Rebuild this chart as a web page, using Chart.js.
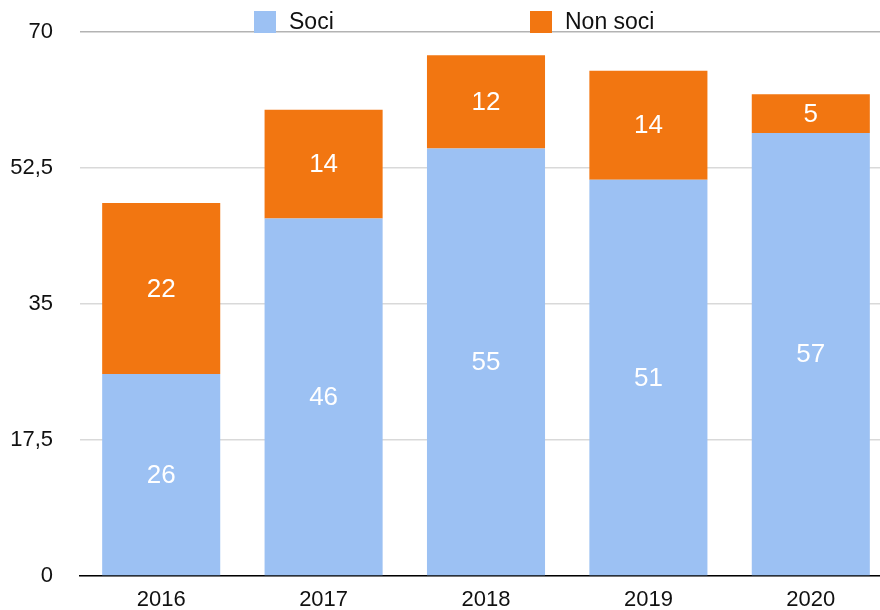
<!DOCTYPE html>
<html>
<head>
<meta charset="utf-8">
<script src="https://cdn.jsdelivr.net/npm/chart.js@4/dist/chart.umd.min.js"></script>
<style>
  html, body { margin: 0; padding: 0; background: #fff; overflow: hidden; }
  #wrap { position: relative; width: 892px; height: 610px; }
</style>
</head>
<body>
<div id="wrap"><canvas id="chart"></canvas></div>
<script>
const anni = ["2016", "2017", "2018", "2019", "2020"];
const soci = [26, 46, 55, 51, 57];
const nonSoci = [22, 14, 12, 14, 5];
const yTicks = [0, 17.5, 35, 52.5, 70];

const FONT = "'Liberation Sans', Helvetica, Arial, sans-serif";

// valori bianchi al centro di ogni segmento
const valueLabels = {
  id: "valueLabels",
  afterDatasetsDraw(chart) {
    const ctx = chart.ctx;
    ctx.save();
    ctx.fillStyle = "#ffffff";
    ctx.font = "26px " + FONT;
    ctx.textAlign = "center";
    ctx.textBaseline = "middle";
    chart.data.datasets.forEach((ds, i) => {
      chart.getDatasetMeta(i).data.forEach((bar, j) => {
        const p = bar.getCenterPoint();
        ctx.fillText(String(ds.data[j]), p.x, p.y + 1);
      });
    });
    ctx.restore();
  }
};

// legenda sopra la linea del 70, come nell'originale
const topLegend = {
  id: "topLegend",
  afterDraw(chart) {
    const ctx = chart.ctx;
    const xs = [254, 530];
    ctx.save();
    ctx.font = "23px " + FONT;
    ctx.textBaseline = "middle";
    chart.data.datasets.forEach((ds, i) => {
      ctx.fillStyle = ds.backgroundColor;
      ctx.fillRect(xs[i], 11, 22, 22);
      ctx.fillStyle = "#111111";
      ctx.fillText(ds.label, xs[i] + 35, 23);
    });
    ctx.restore();
  }
};

new Chart(document.getElementById("chart"), {
  type: "bar",
  data: {
    labels: anni,
    datasets: [
      { label: "Soci", data: soci, backgroundColor: "#9cc1f3" },
      { label: "Non soci", data: nonSoci, backgroundColor: "#f27611" }
    ]
  },
  options: {
    responsive: true,
    maintainAspectRatio: false,
    animation: false,
    events: [],
    layout: { padding: { top: 32, left: 0, right: 0, bottom: 0 } },
    datasets: { bar: { categoryPercentage: 1, barPercentage: 0.727 } },
    plugins: { legend: { display: false }, tooltip: { enabled: false } },
    scales: {
      x: {
        stacked: true,
        afterFit: axis => { axis.height = 34; axis.paddingLeft = 0; axis.paddingRight = 0; },
        grid: { display: false, drawTicks: false },
        border: { display: true, color: "#000000", width: 1.5 },
        ticks: { color: "#111111", padding: 11, font: { family: FONT, size: 22 } }
      },
      y: {
        stacked: true,
        min: 0,
        max: 70,
        afterFit: axis => { axis.width = 80; axis.paddingTop = 0; axis.paddingBottom = 0; },
        afterBuildTicks: axis => { axis.ticks = yTicks.map(v => ({ value: v })); },
        grid: {
          drawTicks: false,
          color: c => (c.tick && c.tick.value === 70 ? "#b3b3b3" : "#d9d9d9"),
          lineWidth: 1.5
        },
        border: { display: false },
        ticks: {
          color: "#111111",
          padding: 27,
          font: { family: FONT, size: 22 },
          callback: v => String(v).replace(".", ",")
        }
      }
    }
  },
  plugins: [valueLabels, topLegend]
});
</script>
</body>
</html>
